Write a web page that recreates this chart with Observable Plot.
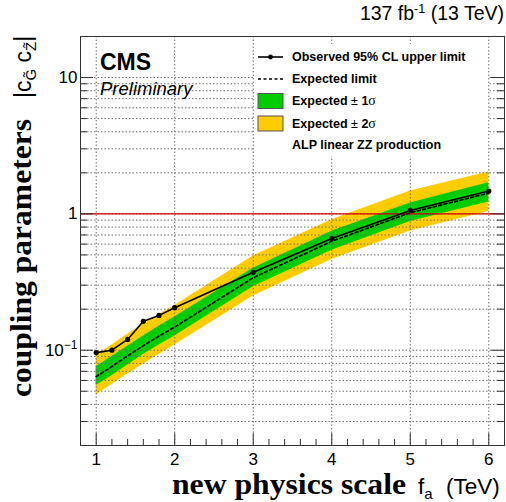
<!DOCTYPE html>
<html>
<head>
<meta charset="utf-8">
<script src="https://cdn.jsdelivr.net/npm/d3@7"></script>
<script src="https://cdn.jsdelivr.net/npm/@observablehq/plot@0.6"></script>
<style>
  html, body { margin: 0; padding: 0; background: #fff; overflow: hidden; }
  svg { display: block; }
</style>
</head>
<body>
<div id="chart"></div>
<script>
// ALP scale f_a (TeV) at which the limits were computed
const fa = [1, 1.2, 1.4, 1.6, 1.8, 2, 3, 4, 5, 6];
// Observed 95% CL upper limit on |c_G~ c_Z~|
const observed = [0.096, 0.100, 0.120, 0.163, 0.180, 0.205, 0.373, 0.66, 1.06, 1.47];
// Median expected limit
const expected = [0.064, 0.076, 0.091, 0.108, 0.127, 0.148, 0.340, 0.630, 1.02, 1.42];
// Expected +-1 sigma band
const sigma1Lo = [0.055, 0.065, 0.078, 0.093, 0.109, 0.127, 0.292, 0.540, 0.88, 1.22];
const sigma1Hi = [0.0755, 0.090, 0.107, 0.127, 0.150, 0.175, 0.400, 0.745, 1.20, 1.69];
// Expected +-2 sigma band
const sigma2Lo = [0.047, 0.056, 0.067, 0.079, 0.093, 0.109, 0.250, 0.463, 0.75, 1.04];
const sigma2Hi = [0.092, 0.109, 0.131, 0.156, 0.183, 0.213, 0.490, 0.905, 1.47, 2.03];
// Reference line
const unitCoupling = [1];

// Axis ticks
const xMajorTicks = [1, 2, 3, 4, 5, 6];
const xMinorTicks = [1.2, 1.4, 1.6, 1.8, 2.2, 2.4, 2.6, 2.8, 3.2, 3.4, 3.6, 3.8,
                     4.2, 4.4, 4.6, 4.8, 5.2, 5.4, 5.6, 5.8];
const yMajorTicks = [0.1, 1, 10];
const yMinorTicks = [0.03, 0.04, 0.05, 0.06, 0.07, 0.08, 0.09,
                     0.2, 0.3, 0.4, 0.5, 0.6, 0.7, 0.8, 0.9,
                     2, 3, 4, 5, 6, 7, 8, 9];
const yTickLabels = {0.1: "10^-1", 1: "1", 10: "10"};

const rows = fa.map((f, i) => ({
  fa: f,
  obs: observed[i],
  exp: expected[i],
  lo1: sigma1Lo[i], hi1: sigma1Hi[i],
  lo2: sigma2Lo[i], hi2: sigma2Hi[i]
}));

const W = 506, H = 502;
const mL = 80, mR = 2, mT = 36, mB = 57;
const innerW = W - mL - mR, innerH = H - mT - mB;
const axisColor = "#333333";
const grid = () => ({stroke: "#707070", strokeWidth: 1, strokeOpacity: 1, strokeDasharray: "1.5,2"});
const tickStyle = () => ({stroke: axisColor, strokeWidth: 1, strokeOpacity: 1});

const chart = Plot.plot({
  width: W, height: H,
  marginLeft: mL, marginRight: mR, marginTop: mT, marginBottom: mB,
  style: {fontFamily: "'Liberation Sans', Arial, sans-serif", fontSize: "17px", background: "#fff", color: "#000", maxWidth: "none"},
  x: {domain: [0.8, 6.2], label: null},
  y: {type: "log", domain: [0.02, 20], label: null},
  marks: [
    // uncertainty bands
    Plot.areaY(rows, {x: "fa", y1: "lo2", y2: "hi2", fill: "#ffcc00"}),
    Plot.areaY(rows, {x: "fa", y1: "lo1", y2: "hi1", fill: "#00cc00"}),
    // grid
    Plot.ruleY(yMajorTicks.concat(yMinorTicks), {y: d => d, ...grid()}),
    Plot.ruleX(xMajorTicks, {x: d => d, ...grid()}),
    // c = 1 reference
    Plot.ruleY(unitCoupling, {y: d => d, stroke: "#d10000", strokeWidth: 1.4}),
    // expected and observed limits
    Plot.line(rows, {x: "fa", y: "exp", stroke: "#000", strokeWidth: 1.6, strokeDasharray: "3,2.5"}),
    Plot.line(rows, {x: "fa", y: "obs", stroke: "#000", strokeWidth: 1.6}),
    Plot.dot(rows, {x: "fa", y: "obs", r: 2.6, fill: "#000"}),
    // frame and inward ticks
    Plot.frame({...tickStyle()}),
    Plot.tickX(xMajorTicks, {x: d => d, insetTop: innerH - 12, ...tickStyle()}),
    Plot.tickX(xMinorTicks, {x: d => d, insetTop: innerH - 6, ...tickStyle()}),
    Plot.tickY(yMajorTicks, {y: d => d, insetRight: innerW - 13, ...tickStyle()}),
    Plot.tickY(yMinorTicks, {y: d => d, insetRight: innerW - 7, ...tickStyle()}),
    Plot.tickY(yMajorTicks, {y: d => d, insetLeft: innerW - 13, ...tickStyle()}),
    Plot.tickY(yMinorTicks, {y: d => d, insetLeft: innerW - 7, ...tickStyle()}),
    // tick labels
    Plot.axisX(xMajorTicks, {tickSize: 0, tickPadding: 7, fontSize: 17, label: null}),
    Plot.axisY(yMajorTicks, {tickSize: 0, tickPadding: 3, fontSize: 17, label: null,
                             tickFormat: d => yTickLabels[d]})
  ]
});

document.getElementById("chart").appendChild(chart);
const svg = d3.select(chart);

// power-of-ten label: "10^-1" -> 10 with a raised exponent
svg.selectAll("text").each(function() {
  const t = this.textContent;
  if (t.includes("^")) {
    const [base, exp] = t.split("^");
    const el = d3.select(this);
    el.text(base);
    el.append("tspan").attr("dy", "-0.55em").attr("font-size", "12px").text(exp.replace("-", "\u2212"));
  }
});

const sans = "'Liberation Sans', Arial, sans-serif";
const serif = "'Liberation Serif', 'Times New Roman', serif";
const overlay = svg.append("g").attr("text-anchor", "start");

// luminosity / energy label
const lumi = overlay.append("text")
  .attr("x", 504).attr("y", 20).attr("text-anchor", "end")
  .attr("font-family", sans).attr("font-size", 19.5);
lumi.append("tspan").text("137 fb");
lumi.append("tspan").attr("dy", -7).attr("font-size", 12.5).text("-1");
lumi.append("tspan").attr("dy", 7).text(" (13 TeV)");

// CMS label
overlay.append("text").attr("x", 100).attr("y", 70)
  .attr("font-family", sans).attr("font-weight", "bold").attr("font-size", 23).text("CMS");
overlay.append("text").attr("x", 100).attr("y", 95)
  .attr("font-family", sans).attr("font-style", "italic").attr("font-size", 18.5).text("Preliminary");

// x-axis title
overlay.append("text").attr("x", 172).attr("y", 494)
  .attr("font-family", serif).attr("font-weight", "bold").attr("font-size", 28.5)
  .attr("textLength", 234).attr("lengthAdjust", "spacingAndGlyphs")
  .text("new physics scale");
const xt = overlay.append("text").attr("x", 418).attr("y", 494)
  .attr("font-family", sans).attr("font-size", 22.5);
xt.append("tspan").text("f");
xt.append("tspan").attr("dy", 5).attr("font-size", 15).text("a");
xt.append("tspan").attr("dy", -5).attr("x", 446).text("(TeV)");

// y-axis title
overlay.append("text").attr("transform", "translate(31,397) rotate(-90)")
  .attr("font-family", serif).attr("font-weight", "bold").attr("font-size", 28.5)
  .attr("textLength", 278).attr("lengthAdjust", "spacingAndGlyphs")
  .text("coupling parameters");
const yt = overlay.append("text").attr("transform", "translate(31,98) rotate(-90)")
  .attr("font-family", sans).attr("font-size", 23);
yt.append("tspan").text("|c");
yt.append("tspan").attr("dy", 5).attr("font-size", 15).text("G\u0303");
yt.append("tspan").attr("dy", -5).text(" c");
yt.append("tspan").attr("dy", 5).attr("font-size", 15).text("Z\u0303");
yt.append("tspan").attr("dy", -5).text("|");

// legend
const lg = overlay.append("g").attr("font-family", sans).attr("font-size", 12.5).attr("font-weight", "bold");
lg.append("rect").attr("x", 255).attr("y", 44).attr("width", 233).attr("height", 112).attr("fill", "#fff");
const lx0 = 258, lx1 = 283, tx = 292;
const rowsY = [57, 79, 101, 123.5, 144.5];
lg.append("line").attr("x1", lx0).attr("x2", lx1).attr("y1", rowsY[0]).attr("y2", rowsY[0])
  .attr("stroke", "#000").attr("stroke-width", 1.6);
lg.append("circle").attr("cx", (lx0 + lx1) / 2).attr("cy", rowsY[0]).attr("r", 2.4).attr("fill", "#000");
lg.append("line").attr("x1", lx0).attr("x2", lx1).attr("y1", rowsY[1]).attr("y2", rowsY[1])
  .attr("stroke", "#000").attr("stroke-width", 1.6).attr("stroke-dasharray", "3,2.5");
lg.append("rect").attr("x", lx0).attr("y", rowsY[2] - 7.5).attr("width", 25).attr("height", 15)
  .attr("fill", "#00cc00").attr("stroke", "#555");
lg.append("rect").attr("x", lx0).attr("y", rowsY[3] - 7.5).attr("width", 25).attr("height", 15)
  .attr("fill", "#ffcc00").attr("stroke", "#555");
const legendText = (y) => lg.append("text").attr("x", tx).attr("y", y).attr("dy", "0.35em");
legendText(rowsY[0]).text("Observed 95% CL upper limit");
legendText(rowsY[1]).text("Expected limit");
[["1", rowsY[2]], ["2", rowsY[3]]].forEach(([n, y]) => {
  const t = legendText(y);
  t.append("tspan").text("Expected ");
  t.append("tspan").attr("font-weight", "normal").text("\u00b1 ");
  t.append("tspan").text(n);
  t.append("tspan").attr("font-weight", "normal").attr("font-family", serif).attr("font-size", 14).text("\u03c3");
});
legendText(rowsY[4]).text("ALP linear ZZ production");
</script>
</body>
</html>
